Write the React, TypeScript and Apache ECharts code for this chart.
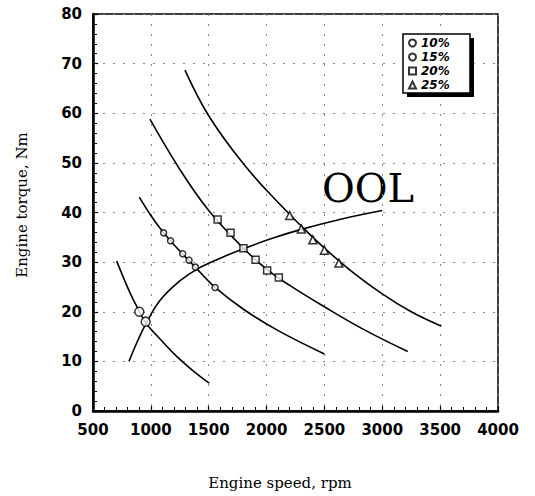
import React, { useEffect, useRef } from "react";
import * as echarts from "echarts";

// Constant-output load lines: [engine speed (rpm), torque (Nm)]
const curve10: number[][] = [
  [705, 30.2], [820, 23.8], [900, 20.1], [958, 17.7], [1100, 14.0],
  [1223, 11.0], [1360, 8.2], [1505, 5.6],
];
const curve15: number[][] = [
  [900, 43.1], [1000, 39.4], [1100, 36.2], [1200, 33.5], [1300, 31.0],
  [1400, 28.6], [1550, 25.0], [1800, 20.5], [2100, 16.2], [2500, 11.5],
];
const curve20: number[][] = [
  [992, 58.8], [1250, 48.7], [1500, 40.4], [1800, 32.8], [2000, 28.6],
  [2200, 25.3], [2500, 21.0], [2850, 16.3], [3220, 12.0],
];
const curve25: number[][] = [
  [1295, 68.7], [1500, 59.5], [1800, 49.8], [2100, 42.0], [2400, 35.0],
  [2700, 28.8], [3000, 23.6], [3250, 20.0], [3511, 17.1],
];
// Optimum operating line
const oolLine: number[][] = [
  [811, 10.0], [891, 14.4], [958, 17.6], [1080, 22.3], [1250, 26.2],
  [1400, 28.6], [1600, 30.8], [1800, 32.7], [2050, 34.8], [2300, 36.6],
  [2650, 38.7], [3000, 40.4],
];

// Measured points
const pts10: number[][] = [[900, 20.0], [955, 18.0]];
const pts15: number[][] = [
  [1110, 35.9], [1170, 34.3], [1275, 31.7], [1330, 30.4], [1385, 29.0], [1555, 24.9],
];
const pts20: number[][] = [
  [1577, 38.6], [1689, 35.9], [1800, 32.8], [1905, 30.5], [2005, 28.3], [2106, 26.9],
];
const pts25: number[][] = [
  [2200, 39.4], [2300, 36.7], [2400, 34.5], [2500, 32.4], [2625, 29.8],
];

const seriesNames = ["10%", "15%", "20%", "25%"];
const xTicks = [500, 4000, 500];
const yTicks = [0, 80, 10];

const serif = "'DejaVu Serif', 'Liberation Serif', serif";
const sans = "'DejaVu Sans', sans-serif";

function lineSeries(data: number[][]) {
  return {
    type: "line",
    data,
    smooth: 0.4,
    showSymbol: false,
    silent: true,
    lineStyle: { color: "#000", width: 1.6 },
    z: 2,
  };
}

function markerSeries(name: string, data: number[][], symbol: string, size: number) {
  return {
    name,
    type: "scatter",
    data,
    symbol,
    symbolSize: size,
    itemStyle: { color: "#fff", borderColor: "#000", borderWidth: 1.5 },
    z: 3,
  };
}

export default function App() {
  const ref = useRef<HTMLDivElement>(null);

  useEffect(() => {
    if (!ref.current) return;
    const chart = echarts.init(ref.current, null, { renderer: "svg" });
    chart.setOption({
      animation: false,
      backgroundColor: "#fff",
      grid: {
        left: 93,
        right: 37,
        top: 14,
        bottom: 85,
        show: true,
        borderColor: "#000",
        borderWidth: 1.5,
        backgroundColor: "transparent",
      },
      xAxis: {
        type: "value",
        min: xTicks[0],
        max: xTicks[1],
        interval: xTicks[2],
        axisLine: { show: true, lineStyle: { color: "#000", width: 2.5 } },
        axisTick: { show: true, inside: true, length: 5, lineStyle: { color: "#000", width: 1.2 } },
        minorTick: { show: true, splitNumber: 5, length: 4, lineStyle: { color: "#000", width: 1 } },
        axisLabel: {
          color: "#000",
          fontFamily: sans,
          fontWeight: "bold",
          fontSize: 15,
          margin: 11,
          formatter: (v: number) => String(v),
        },
        splitLine: {
          show: true,
          lineStyle: { color: "#888", width: 1, type: [2, 8] },
        },
      },
      yAxis: {
        type: "value",
        min: yTicks[0],
        max: yTicks[1],
        interval: yTicks[2],
        axisLine: { show: true, lineStyle: { color: "#000", width: 2.5 } },
        axisTick: { show: true, inside: true, length: 5, lineStyle: { color: "#000", width: 1.2 } },
        minorTick: { show: true, splitNumber: 5, length: 4, lineStyle: { color: "#000", width: 1 } },
        axisLabel: {
          color: "#000",
          fontFamily: sans,
          fontWeight: "bold",
          fontSize: 15,
          margin: 11,
          formatter: (v: number) => String(v),
        },
        splitLine: {
          show: true,
          lineStyle: { color: "#888", width: 1, type: [2, 8] },
        },
      },
      legend: {
        data: seriesNames,
        orient: "vertical",
        left: 408,
        top: 37,
        padding: 0,
        itemGap: 2,
        itemWidth: 7,
        itemHeight: 7,
        textStyle: {
          color: "#000",
          fontFamily: sans,
          fontWeight: "bold",
          fontStyle: "italic",
          fontSize: 12,
          lineHeight: 12,
        },
        z: 6,
      },
      graphic: [
        {
          type: "rect",
          z: 4,
          shape: { x: 407, y: 38, width: 67, height: 59 },
          style: { fill: "#000" },
        },
        {
          type: "rect",
          z: 5,
          shape: { x: 403, y: 34, width: 67, height: 59 },
          style: { fill: "#fff", stroke: "#000", lineWidth: 1.5 },
        },
        {
          type: "text",
          left: 322,
          top: 168,
          style: { text: "OOL", fill: "#000", font: `40px ${serif}` },
        },
        {
          type: "text",
          x: 280,
          y: 483,
          style: {
            text: "Engine speed, rpm",
            fill: "#000",
            font: `15px ${serif}`,
            align: "center",
            verticalAlign: "middle",
          },
        },
        {
          type: "text",
          x: 22,
          y: 205,
          rotation: Math.PI / 2,
          style: {
            text: "Engine torque, Nm",
            fill: "#000",
            font: `15px ${serif}`,
            align: "center",
            verticalAlign: "middle",
          },
        },
      ],
      series: [
        lineSeries(curve10),
        lineSeries(curve15),
        lineSeries(curve20),
        lineSeries(curve25),
        lineSeries(oolLine),
        markerSeries(seriesNames[0], pts10, "circle", 9),
        markerSeries(seriesNames[1], pts15, "circle", 6),
        markerSeries(seriesNames[2], pts20, "rect", 7),
        markerSeries(seriesNames[3], pts25, "triangle", 8),
      ],
    });
    return () => chart.dispose();
  }, []);

  return (
    <div
      ref={ref}
      style={{ position: "absolute", left: 0, top: 0, width: 535, height: 496 }}
    />
  );
}
